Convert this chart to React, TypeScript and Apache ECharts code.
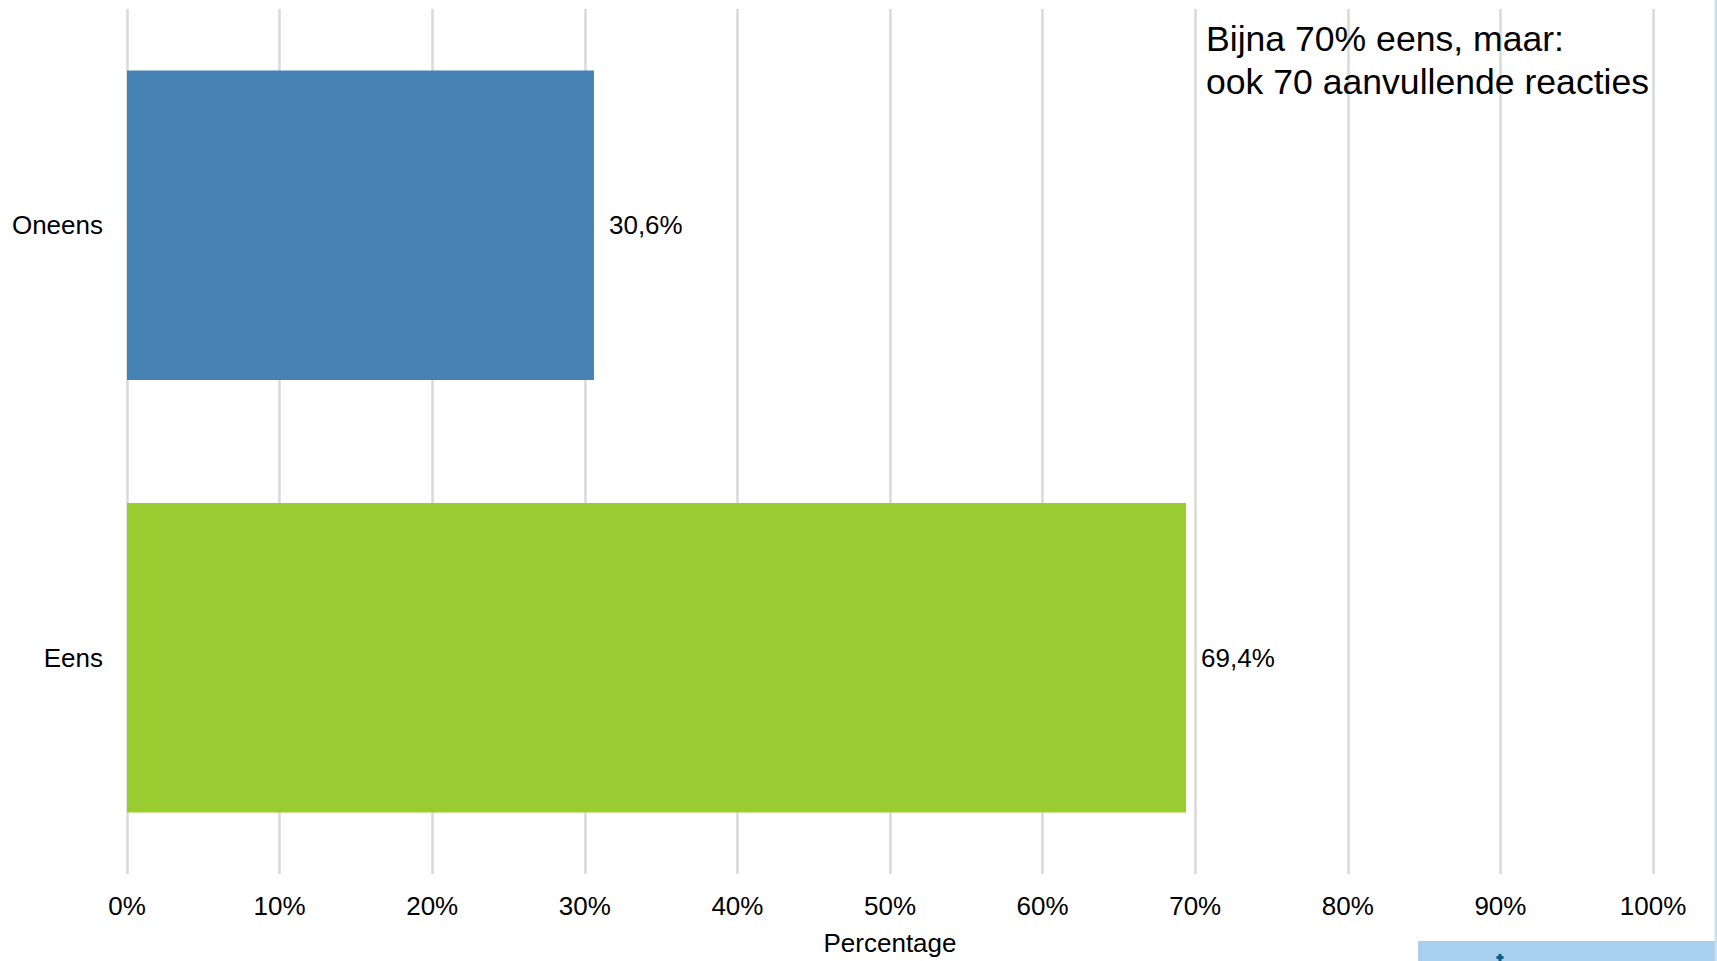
import React, { useEffect, useRef } from "react";
import * as echarts from "echarts";

const categories = ["Oneens", "Eens"];
const values = [30.6, 69.4];
const barColors = ["#4682b4", "#9acd32"];
const xTicks = [0, 10, 20, 30, 40, 50, 60, 70, 80, 90, 100];
const axisName = "Percentage";
const noteLines = ["Bijna 70% eens, maar:", "ook 70 aanvullende reacties"];

const FONT = "'Liberation Sans', Arial, sans-serif";

export default function App() {
  const ref = useRef<HTMLDivElement>(null);
  useEffect(() => {
    if (!ref.current) return;
    const chart = echarts.init(ref.current, undefined, { renderer: "svg" });
    chart.setOption({
      animation: false,
      backgroundColor: "#ffffff",
      grid: { left: 127, right: 64, top: 9, bottom: 84, containLabel: false },
      xAxis: {
        type: "value",
        min: xTicks[0],
        max: xTicks[xTicks.length - 1],
        interval: 10,
        name: axisName,
        nameLocation: "middle",
        nameGap: 56,
        nameTextStyle: { color: "#000", fontSize: 26, fontFamily: FONT },
        axisLine: { show: false },
        axisTick: { show: false },
        axisLabel: {
          color: "#000",
          fontSize: 26,
          fontFamily: FONT,
          margin: 18.5,
          formatter: (v: number) => `${v}%`,
        },
        splitLine: { show: true, lineStyle: { color: "#d9d9d9", width: 2.5 } },
      },
      yAxis: {
        type: "category",
        data: categories,
        inverse: true,
        axisLine: { show: false },
        axisTick: { show: false },
        axisLabel: { color: "#000", fontSize: 26, fontFamily: FONT, margin: 24 },
        splitLine: { show: false },
      },
      series: [
        {
          type: "bar",
          barWidth: "71.6%",
          data: values.map((v, i) => ({ value: v, itemStyle: { color: barColors[i] } })),
          label: {
            show: true,
            position: "right",
            distance: 15,
            color: "#000",
            fontSize: 26,
            fontFamily: FONT,
            formatter: (p: any) => `${String(p.value).replace(".", ",")}%`,
          },
        },
      ],
      graphic: [
        {
          type: "text",
          left: 1206,
          top: 17,
          z: 100,
          style: {
            text: noteLines.join("\n"),
            fill: "#000",
            font: `35.6px ${FONT}`,
            lineHeight: 43,
          },
        },
        {
          type: "rect",
          z: 100,
          shape: { x: 1418, y: 941, width: 299, height: 20 },
          style: { fill: "#a9cfee" },
        },
        {
          type: "rect",
          z: 100,
          shape: { x: 1714.5, y: 0, width: 2.5, height: 961 },
          style: { fill: "#c5dff4" },
        },
        {
          type: "rect",
          z: 101,
          shape: { x: 1498.5, y: 954, width: 3, height: 7 },
          style: { fill: "#0b5c86" },
        },
        {
          type: "rect",
          z: 101,
          shape: { x: 1496.5, y: 956, width: 7, height: 3 },
          style: { fill: "#0b5c86" },
        },
      ],
    });
    return () => chart.dispose();
  }, []);
  return (
    <div
      ref={ref}
      style={{ position: "fixed", left: 0, top: 0, width: 1717, height: 961 }}
    />
  );
}
